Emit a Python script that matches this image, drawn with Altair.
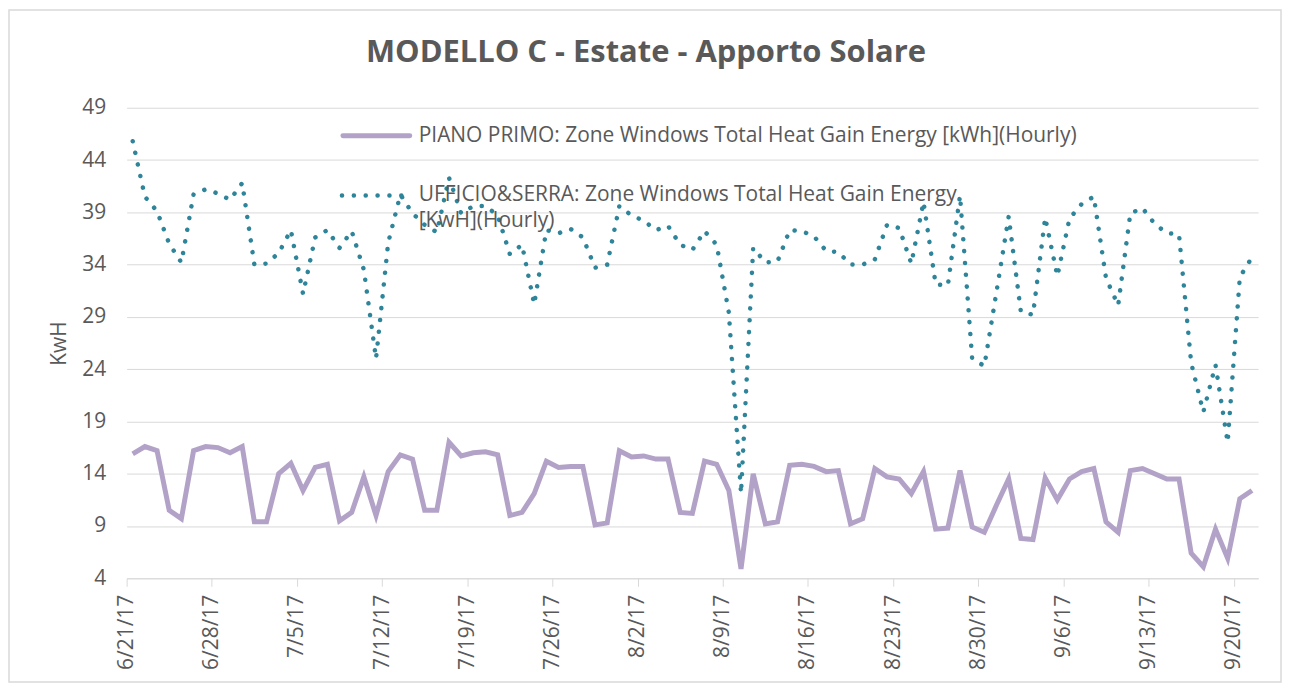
import altair as alt
import pandas as pd

# ---- data (daily values, 6/21/17 .. 9/21/17) ----
dates = [d.strftime("%-m/%-d/%y") for d in pd.date_range("2017-06-21", periods=93, freq="D")]

piano_primo = [
    15.9, 16.6, 16.2, 10.5, 9.7, 16.2, 16.6, 16.5, 16.0, 16.6,
    9.4, 9.4, 14.0, 15.0, 12.4, 14.6, 14.9, 9.5, 10.3, 13.7,
    10.0, 14.2, 15.8, 15.4, 10.5, 10.5, 17.0, 15.7, 16.0, 16.1,
    15.8, 10.0, 10.3, 12.1, 15.2, 14.6, 14.7, 14.7, 9.1, 9.3,
    16.2, 15.6, 15.7, 15.4, 15.4, 10.3, 10.2, 15.2, 14.9, 12.4,
    4.9, 14.0, 9.2, 9.4, 14.8, 14.9, 14.7, 14.2, 14.3, 9.2,
    9.7, 14.5, 13.7, 13.5, 12.1, 14.2, 8.7, 8.8, 14.3, 8.9,
    8.4, 11.0, 13.5, 7.8, 7.7, 13.6, 11.5, 13.5, 14.2, 14.5,
    9.4, 8.4, 14.3, 14.5, 14.0, 13.5, 13.5, 6.4, 5.1, 8.7,
    5.9, 11.6, 12.4,
]

ufficio_serra = [
    45.8, 40.5, 39.1, 36.0, 34.2, 40.7, 41.2, 40.8, 40.2, 41.8,
    34.0, 34.1, 35.1, 37.3, 31.2, 36.6, 37.3, 35.6, 37.2, 33.5,
    25.0, 36.1, 40.7, 38.9, 37.8, 37.1, 42.3, 38.9, 39.6, 39.6,
    38.7, 35.0, 35.9, 30.2, 37.3, 37.0, 37.4, 36.6, 33.7, 34.0,
    39.6, 38.7, 38.2, 37.3, 37.7, 35.9, 35.4, 37.2, 35.9, 29.4,
    12.1, 35.6, 34.2, 34.3, 37.3, 37.2, 36.7, 35.3, 35.2, 34.0,
    34.0, 34.5, 37.8, 37.5, 34.1, 40.0, 32.1, 32.0, 40.6, 25.0,
    24.3, 31.4, 38.6, 29.5, 29.2, 38.5, 32.9, 38.4, 39.8, 40.5,
    32.7, 30.1, 38.9, 39.4, 37.9, 37.0, 36.9, 24.6, 19.9, 24.4,
    17.0, 32.8, 34.7,
]

tick_labels = ["6/21/17", "6/28/17", "7/5/17", "7/12/17", "7/19/17", "7/26/17", "8/2/17",
               "8/9/17", "8/16/17", "8/23/17", "8/30/17", "9/6/17", "9/13/17", "9/20/17"]
y_ticks = [4, 9, 14, 19, 24, 29, 34, 39, 44, 49]

chart_title = "MODELLO C - Estate - Apporto Solare"
series_names = ["PIANO PRIMO: Zone Windows Total Heat Gain Energy [kWh](Hourly)",
                "UFFICIO&SERRA: Zone Windows Total Heat Gain Energy\n[KwH](Hourly)"]

PURPLE = "#B3A2C7"
TEAL = "#2E8499"
TEXT = "#595959"
GRID = "#D9D9D9"
FONT = "Open Sans"

df = pd.DataFrame({
    "date": dates,
    "pos": [i + 0.5 for i in range(len(dates))],
    "piano": piano_primo,
    "ufficio": ufficio_serra,
})

label_array = "[" + ",".join("'" + t + "'" for t in tick_labels) + "]"

x_enc = alt.X(
    "pos:Q",
    scale=alt.Scale(domain=[0, len(dates)], nice=False, zero=False),
    axis=alt.Axis(
        values=[7 * k for k in range(len(tick_labels))],
        labelExpr=label_array + "[round(datum.value / 7)]",
        labelAngle=-90,
        labelFontSize=21,
        labelFont=FONT,
        labelColor=TEXT,
        labelPadding=8,
        tickSize=8,
        tickColor=GRID,
        domainColor=GRID,
        domainWidth=1,
        grid=False,
        title=None,
    ),
)

y_scale = alt.Scale(domain=[4, 49], nice=False, zero=False)
y_axis = alt.Axis(
    values=y_ticks,
    labelFontSize=21,
    labelFont=FONT,
    labelColor=TEXT,
    labelPadding=21,
    ticks=False,
    tickSize=0,
    domain=False,
    grid=True,
    gridColor=GRID,
    gridWidth=1,
    title="KwH",
    titleFont=FONT,
    titleFontSize=21,
    titleFontWeight="normal",
    titleColor=TEXT,
    titlePadding=12,
)

base = alt.Chart(df)

purple_line = base.mark_line(color=PURPLE, strokeWidth=5).encode(
    x=x_enc,
    y=alt.Y("piano:Q", scale=y_scale, axis=y_axis),
)

teal_line = base.mark_line(
    color=TEAL, strokeWidth=4.5, strokeDash=[0.1, 11.8], strokeCap="round"
).encode(
    x=alt.X("pos:Q"),
    y=alt.Y("ufficio:Q"),
)

one = alt.Data(values=[{"k": 0}])

title_mark = alt.Chart(one).mark_text(
    align="center", baseline="middle", font=FONT, fontSize=31, fontWeight="bold", color=TEXT
).encode(x=alt.value(521), y=alt.value(-55), text=alt.value(chart_title))

leg_purple_line = alt.Chart(one).mark_rule(color=PURPLE, strokeWidth=5, strokeCap="round").encode(
    x=alt.value(217), x2=alt.value(284), y=alt.value(28)
)
leg_purple_text = alt.Chart(one).mark_text(
    align="left", baseline="middle", font=FONT, fontSize=21, color=TEXT
).encode(x=alt.value(293), y=alt.value(28), text=alt.value(series_names[0]))

leg_teal_line = alt.Chart(one).mark_rule(
    color=TEAL, strokeWidth=4.5, strokeDash=[0.1, 11.8], strokeCap="round"
).encode(x=alt.value(216), x2=alt.value(282), y=alt.value(88))
leg_teal_text = alt.Chart(one).mark_text(
    align="left", baseline="middle", font=FONT, fontSize=21, color=TEXT,
    lineBreak="\n", lineHeight=26,
).encode(x=alt.value(293), y=alt.value(88), text=alt.value(series_names[1]))

border = alt.Chart(one).mark_rect(fill=None, stroke=GRID, strokeWidth=1.5).encode(
    x=alt.value(-118), x2=alt.value(1158), y=alt.value(-98), y2=alt.value(576)
)

chart = alt.layer(
    border, teal_line, purple_line, title_mark,
    leg_purple_line, leg_purple_text, leg_teal_line, leg_teal_text,
).properties(
    width=1135,
    height=472,
    autosize=alt.AutoSizeParams(type="none"),
    padding={"left": 119, "top": 99, "right": 26, "bottom": 107},
    background="white",
).configure_view(stroke=None)

chart.save("out.html", embed_options={"renderer": "svg", "actions": False})
